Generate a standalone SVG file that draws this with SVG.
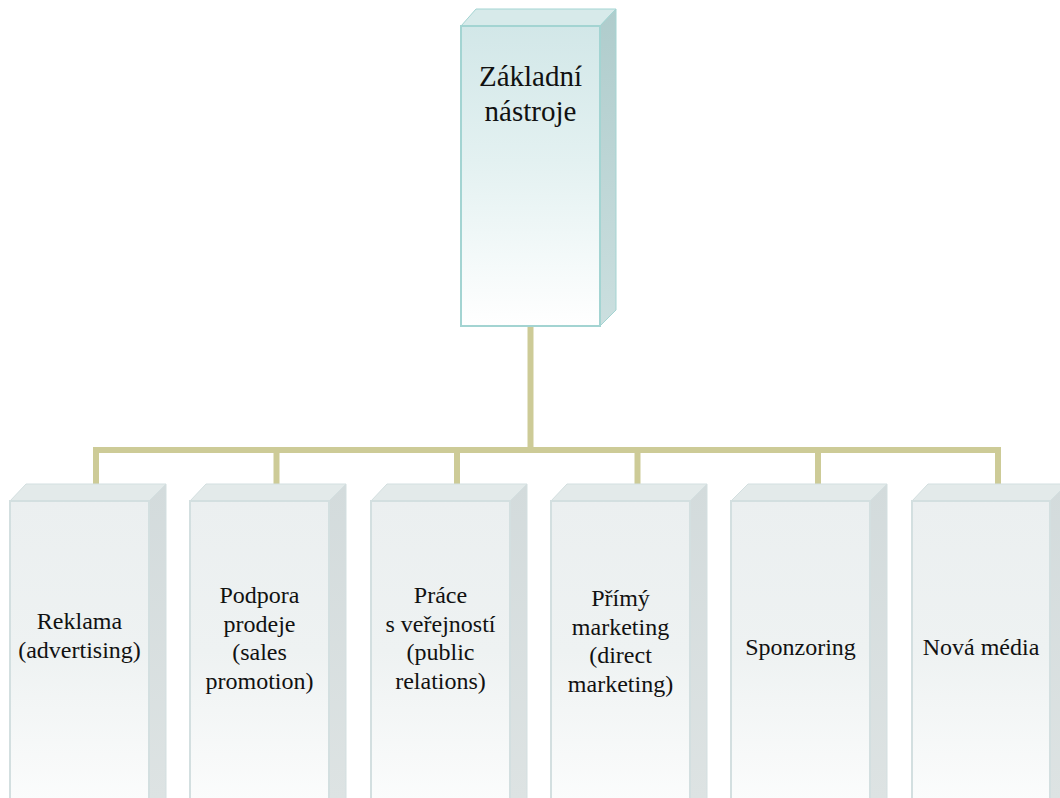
<svg xmlns="http://www.w3.org/2000/svg" width="1060" height="798" viewBox="0 0 1060 798">
<defs>
<linearGradient id="gTop" x1="0" y1="0" x2="0" y2="1">
<stop offset="0" stop-color="#d2e7e8"/>
<stop offset="0.45" stop-color="#e3f1f1"/>
<stop offset="1" stop-color="#ffffff"/>
</linearGradient>
<linearGradient id="gTopSide" x1="0" y1="0" x2="0" y2="1">
<stop offset="0" stop-color="#afcccc"/>
<stop offset="1" stop-color="#cbdfdf"/>
</linearGradient>
<linearGradient id="gBot" x1="0" y1="0" x2="0" y2="1">
<stop offset="0" stop-color="#ebeff0"/>
<stop offset="0.5" stop-color="#eef2f2"/>
<stop offset="1" stop-color="#fbfcfc"/>
</linearGradient>
<linearGradient id="gBotSide" x1="0" y1="0" x2="0" y2="1">
<stop offset="0" stop-color="#d3dbdc"/>
<stop offset="1" stop-color="#dde3e3"/>
</linearGradient>
</defs>
<style>
.conn{fill:none;stroke:#cdcb97;stroke-width:6;stroke-linejoin:miter}
.tf{fill:url(#gTop);stroke:#a3d4d2;stroke-width:2}
.ts{fill:url(#gTopSide);stroke:#a3d4d2;stroke-width:1}
.tt{fill:#d7eaea;stroke:#a3d4d2;stroke-width:1}
.bf{fill:url(#gBot);stroke:#d3dfe0;stroke-width:2}
.bs{fill:url(#gBotSide);stroke:#d3dfe0;stroke-width:1}
.bt{fill:#e3eaea;stroke:#d3dfe0;stroke-width:1}
.lbl{fill:#111;text-anchor:middle}
.big{font-size:29px}
.sm{font-size:24px}
</style>
<g id="connectors">
<path class="conn" d="M530.5 326 V450"/>
<path class="conn" d="M96 484 V450 H998 V484"/>
<path class="conn" d="M276.5 450 V484"/>
<path class="conn" d="M457 450 V484"/>
<path class="conn" d="M637.5 450 V484"/>
<path class="conn" d="M818 450 V484"/>
</g>
<g id="root">
<polygon class="tt" points="461,26 476,9 616,9 600,26"/>
<polygon class="ts" points="600,26 616,9 616,310 600,326"/>
<rect class="tf" x="461" y="26" width="139" height="300"/>
<text class="lbl big" font-family="'Liberation Serif', 'DejaVu Serif', serif" x="530.5" y="86">Základní</text>
<text class="lbl big" font-family="'Liberation Serif', 'DejaVu Serif', serif" x="530.5" y="121">nástroje</text>
</g>
<g id="n1">
<polygon class="bt" points="10,501 26,484 166,484 149,501"/>
<polygon class="bs" points="149,501 166,484 166,800 149,800"/>
<rect class="bf" x="10" y="501" width="139" height="300"/>
<text class="lbl sm" font-family="'Liberation Serif', 'DejaVu Serif', serif" x="79.5" y="629">Reklama</text>
<text class="lbl sm" font-family="'Liberation Serif', 'DejaVu Serif', serif" x="79.5" y="658">(advertising)</text>
</g>
<g id="n2">
<polygon class="bt" points="190,501 206,484 346,484 329,501"/>
<polygon class="bs" points="329,501 346,484 346,800 329,800"/>
<rect class="bf" x="190" y="501" width="139" height="300"/>
<text class="lbl sm" font-family="'Liberation Serif', 'DejaVu Serif', serif" x="259.5" y="603">Podpora</text>
<text class="lbl sm" font-family="'Liberation Serif', 'DejaVu Serif', serif" x="259.5" y="631.5">prodeje</text>
<text class="lbl sm" font-family="'Liberation Serif', 'DejaVu Serif', serif" x="259.5" y="660">(sales</text>
<text class="lbl sm" font-family="'Liberation Serif', 'DejaVu Serif', serif" x="259.5" y="688.5">promotion)</text>
</g>
<g id="n3">
<polygon class="bt" points="371,501 387,484 527,484 510,501"/>
<polygon class="bs" points="510,501 527,484 527,800 510,800"/>
<rect class="bf" x="371" y="501" width="139" height="300"/>
<text class="lbl sm" font-family="'Liberation Serif', 'DejaVu Serif', serif" x="440.5" y="603">Práce</text>
<text class="lbl sm" font-family="'Liberation Serif', 'DejaVu Serif', serif" x="440.5" y="631.5">s veřejností</text>
<text class="lbl sm" font-family="'Liberation Serif', 'DejaVu Serif', serif" x="440.5" y="660">(public</text>
<text class="lbl sm" font-family="'Liberation Serif', 'DejaVu Serif', serif" x="440.5" y="688.5">relations)</text>
</g>
<g id="n4">
<polygon class="bt" points="551,501 567,484 707,484 690,501"/>
<polygon class="bs" points="690,501 707,484 707,800 690,800"/>
<rect class="bf" x="551" y="501" width="139" height="300"/>
<text class="lbl sm" font-family="'Liberation Serif', 'DejaVu Serif', serif" x="620.5" y="606">Přímý</text>
<text class="lbl sm" font-family="'Liberation Serif', 'DejaVu Serif', serif" x="620.5" y="634.5">marketing</text>
<text class="lbl sm" font-family="'Liberation Serif', 'DejaVu Serif', serif" x="620.5" y="663">(direct</text>
<text class="lbl sm" font-family="'Liberation Serif', 'DejaVu Serif', serif" x="620.5" y="691.5">marketing)</text>
</g>
<g id="n5">
<polygon class="bt" points="731,501 748,484 887,484 870,501"/>
<polygon class="bs" points="870,501 887,484 887,800 870,800"/>
<rect class="bf" x="731" y="501" width="139" height="300"/>
<text class="lbl sm" font-family="'Liberation Serif', 'DejaVu Serif', serif" x="800.5" y="655">Sponzoring</text>
</g>
<g id="n6">
<polygon class="bt" points="912,501 928,484 1067,484 1050,501"/>
<polygon class="bs" points="1050,501 1067,484 1067,800 1050,800"/>
<rect class="bf" x="912" y="501" width="138" height="300"/>
<text class="lbl sm" font-family="'Liberation Serif', 'DejaVu Serif', serif" x="981" y="655">Nová média</text>
</g>
</svg>
